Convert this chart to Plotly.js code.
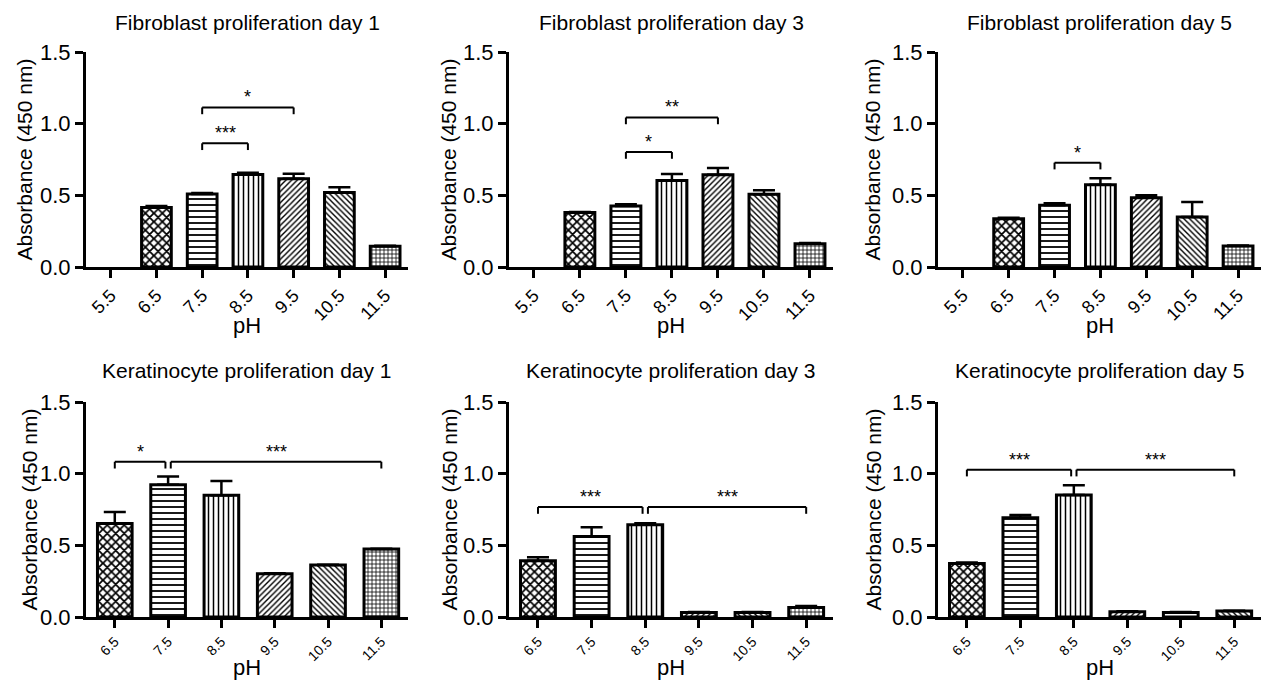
<!DOCTYPE html>
<html>
<head>
<meta charset="utf-8">
<script src="https://cdn.plot.ly/plotly-3.0.1.min.js"></script>
<style>
html,body{margin:0;padding:0;background:#ffffff;}
#chart{width:1261px;height:684px;}
</style>
</head>
<body>
<div id="chart"></div>
<script>
// ---------- data ----------
const fibCategories = ['5.5', '6.5', '7.5', '8.5', '9.5', '10.5', '11.5'];
const kerCategories = ['6.5', '7.5', '8.5', '9.5', '10.5', '11.5'];

const fibDay1 = [null, 0.415, 0.510, 0.645, 0.615, 0.520, 0.145];
const fibDay1Err = [null, 0.010, 0.006, 0.012, 0.035, 0.037, 0.004];
const fibDay3 = [null, 0.380, 0.425, 0.603, 0.643, 0.508, 0.163];
const fibDay3Err = [null, 0.004, 0.012, 0.046, 0.047, 0.028, 0.004];
const fibDay5 = [null, 0.337, 0.430, 0.573, 0.484, 0.348, 0.146];
const fibDay5Err = [null, 0.006, 0.014, 0.047, 0.016, 0.105, 0.004];

const kerDay1 = [0.652, 0.922, 0.850, 0.302, 0.362, 0.474];
const kerDay1Err = [0.081, 0.058, 0.098, 0.003, 0.003, 0.003];
const kerDay3 = [0.392, 0.562, 0.643, 0.032, 0.032, 0.067];
const kerDay3Err = [0.024, 0.065, 0.011, 0.003, 0.003, 0.010];
const kerDay5 = [0.374, 0.692, 0.852, 0.037, 0.032, 0.041];
const kerDay5Err = [0.006, 0.019, 0.067, 0.003, 0.003, 0.003];

// significance brackets: from, to, level, label
const fibDay1SigFrom = ['7.5', '7.5'];
const fibDay1SigTo = ['8.5', '9.5'];
const fibDay1SigLevel = [0.863, 1.113];
const fibDay1SigText = ['***', '*'];

const fibDay3SigFrom = ['7.5', '7.5'];
const fibDay3SigTo = ['8.5', '9.5'];
const fibDay3SigLevel = [0.802, 1.043];
const fibDay3SigText = ['*', '**'];

const fibDay5SigFrom = ['7.5'];
const fibDay5SigTo = ['8.5'];
const fibDay5SigLevel = [0.728];
const fibDay5SigText = ['*'];

const kerDay1SigFrom = ['6.5', '7.5'];
const kerDay1SigTo = ['7.5', '11.5'];
const kerDay1SigLevel = [1.083, 1.083];
const kerDay1SigText = ['*', '***'];

const kerDay3SigFrom = ['6.5', '8.5'];
const kerDay3SigTo = ['8.5', '11.5'];
const kerDay3SigLevel = [0.767, 0.767];
const kerDay3SigText = ['***', '***'];

const kerDay5SigFrom = ['6.5', '8.5'];
const kerDay5SigTo = ['8.5', '11.5'];
const kerDay5SigLevel = [1.028, 1.028];
const kerDay5SigText = ['***', '***'];

const yTickVals = [0, 0.5, 1.0, 1.5];
const yTickText = ['0.0', '0.5', '1.0', '1.5'];

const titles = [
  'Fibroblast proliferation day 1', 'Fibroblast proliferation day 3', 'Fibroblast proliferation day 5',
  'Keratinocyte proliferation day 1', 'Keratinocyte proliferation day 3', 'Keratinocyte proliferation day 5'
];
const yTitle = 'Absorbance (450 nm)';
const xTitle = 'pH';

// ---------- styles ----------
const FONT = 'Liberation Sans, Arial, Helvetica, sans-serif';
const W = 1261, H = 684;
const colPx = [[86, 408], [509, 833], [938, 1261]];
const rowPx = [[52, 267], [402, 617]];
const yTitleXPx = [[24, 448, 872], [29, 449, 873]];
const titleYPx = [22, 370];
const xTitleYPx = [325, 667];

const patternStyle = {
  '6.5': {shape: 'x', size: 6, solidity: 0.5},
  '7.5': {shape: '-', size: 6, solidity: 0.3},
  '8.5': {shape: '|', size: 5, solidity: 0.3},
  '9.5': {shape: '/', size: 4, solidity: 0.35},
  '10.5': {shape: '\\', size: 4, solidity: 0.35},
  '11.5': {shape: '+', size: 4, solidity: 0.35},
  '5.5': {shape: '', size: 4, solidity: 0.3}
};
const kerDay5Pattern = {
  '9.5': {shape: '/', size: 4, solidity: 0.35},
  '10.5': {shape: '-', size: 3, solidity: 0.35},
  '11.5': {shape: '\\', size: 4, solidity: 0.35}
};

const panels = [
  {cats: fibCategories, y: fibDay1, err: fibDay1Err, from: fibDay1SigFrom, to: fibDay1SigTo, lev: fibDay1SigLevel, txt: fibDay1SigText},
  {cats: fibCategories, y: fibDay3, err: fibDay3Err, from: fibDay3SigFrom, to: fibDay3SigTo, lev: fibDay3SigLevel, txt: fibDay3SigText},
  {cats: fibCategories, y: fibDay5, err: fibDay5Err, from: fibDay5SigFrom, to: fibDay5SigTo, lev: fibDay5SigLevel, txt: fibDay5SigText},
  {cats: kerCategories, y: kerDay1, err: kerDay1Err, from: kerDay1SigFrom, to: kerDay1SigTo, lev: kerDay1SigLevel, txt: kerDay1SigText},
  {cats: kerCategories, y: kerDay3, err: kerDay3Err, from: kerDay3SigFrom, to: kerDay3SigTo, lev: kerDay3SigLevel, txt: kerDay3SigText},
  {cats: kerCategories, y: kerDay5, err: kerDay5Err, from: kerDay5SigFrom, to: kerDay5SigTo, lev: kerDay5SigLevel, txt: kerDay5SigText, pat: kerDay5Pattern}
];

const traces = [];
const layout = {
  width: W, height: H,
  margin: {l: 0, r: 0, t: 0, b: 0},
  paper_bgcolor: '#ffffff', plot_bgcolor: '#ffffff',
  showlegend: false,
  font: {family: FONT, color: '#000000'},
  annotations: [], shapes: []
};

const DROP = 0.047;
const GAP = 0.05;

panels.forEach((p, i) => {
  const n = i + 1;
  const row = i < 3 ? 0 : 1;
  const col = i % 3;
  const xs = n === 1 ? 'x' : 'x' + n;
  const ys = n === 1 ? 'y' : 'y' + n;
  const xk = n === 1 ? 'xaxis' : 'xaxis' + n;
  const yk = n === 1 ? 'yaxis' : 'yaxis' + n;
  const xd = [colPx[col][0] / W, Math.min(colPx[col][1] / W, 1)];
  const yd = [1 - rowPx[row][1] / H, 1 - rowPx[row][0] / H];
  const tickFont = row === 0 ? 18 : 14;

  const pats = p.cats.map(c => (p.pat && p.pat[c]) ? p.pat[c] : patternStyle[c]);
  traces.push({
    type: 'bar', x: p.cats, y: p.y, xaxis: xs, yaxis: ys,
    width: 0.65,
    marker: {
      color: '#ffffff',
      line: {color: '#000000', width: 3},
      pattern: {
        shape: pats.map(s => s.shape), size: pats.map(s => s.size), solidity: pats.map(s => s.solidity),
        fgcolor: '#000000', bgcolor: '#ffffff', fgopacity: 1, fillmode: 'replace'
      }
    },
    error_y: {type: 'data', symmetric: false, array: p.err, arrayminus: p.err.map(v => v === null ? null : 0),
      color: '#000000', thickness: 2.5, width: 11},
    hoverinfo: 'skip', cliponaxis: false
  });

  layout[xk] = {
    domain: xd, anchor: ys, type: 'category', categoryorder: 'array', categoryarray: p.cats,
    range: [-0.54, p.cats.length - 0.5],
    showline: true, linewidth: 3, linecolor: '#000000',
    ticks: 'outside', ticklen: 8, tickwidth: 3, tickcolor: '#000000',
    tickangle: -45, tickfont: {family: FONT, size: tickFont, color: '#000000'},
    showgrid: false, zeroline: false, fixedrange: true
  };
  layout[yk] = {
    domain: yd, anchor: xs, range: [0, 1.5],
    tickvals: yTickVals, ticktext: yTickText,
    showline: true, linewidth: 3, linecolor: '#000000',
    ticks: 'outside', ticklen: 8, tickwidth: 3, tickcolor: '#000000',
    tickfont: {family: FONT, size: 22, color: '#000000'},
    showgrid: false, zeroline: false, fixedrange: true
  };

  // titles
  layout.annotations.push({
    text: titles[i], xref: 'paper', yref: 'paper',
    x: (xd[0] + xd[1]) / 2, y: 1 - titleYPx[row] / H, xanchor: 'center', yanchor: 'middle',
    showarrow: false, font: {family: FONT, size: 21, color: '#000000'}
  });
  layout.annotations.push({
    text: yTitle, xref: 'paper', yref: 'paper', textangle: -90,
    x: yTitleXPx[row][col] / W, y: (yd[0] + yd[1]) / 2, xanchor: 'center', yanchor: 'middle',
    showarrow: false, font: {family: FONT, size: 21, color: '#000000'}
  });
  layout.annotations.push({
    text: xTitle, xref: 'paper', yref: 'paper',
    x: (colPx[col][0] + colPx[col][1]) / 2 / W, y: 1 - xTitleYPx[row] / H, xanchor: 'center', yanchor: 'middle',
    showarrow: false, font: {family: FONT, size: 22, color: '#000000'}
  });

  // significance brackets
  p.from.forEach((f, k) => {
    let a = p.cats.indexOf(f);
    let b = p.cats.indexOf(p.to[k]);
    // shared endpoints get a small gap
    p.from.forEach((f2, m) => { if (m !== k && p.to[m] === f) a += GAP; });
    p.to.forEach((t2, m) => { if (m !== k && p.from[m] === p.to[k]) b -= GAP; });
    const lv = p.lev[k];
    const ln = {color: '#000000', width: 2};
    layout.shapes.push({type: 'line', xref: xs, yref: ys, x0: a, x1: b, y0: lv, y1: lv, line: ln});
    layout.shapes.push({type: 'line', xref: xs, yref: ys, x0: a, x1: a, y0: lv, y1: lv - DROP, line: ln});
    layout.shapes.push({type: 'line', xref: xs, yref: ys, x0: b, x1: b, y0: lv, y1: lv - DROP, line: ln});
    layout.annotations.push({
      text: p.txt[k], xref: xs, yref: ys, x: (a + b) / 2, y: lv, xanchor: 'center', yanchor: 'bottom',
      yshift: -2, showarrow: false, font: {family: FONT, size: 18, color: '#000000'}
    });
  });
});

Plotly.newPlot('chart', traces, layout, {displayModeBar: false, staticPlot: true});
</script>
</body>
</html>
